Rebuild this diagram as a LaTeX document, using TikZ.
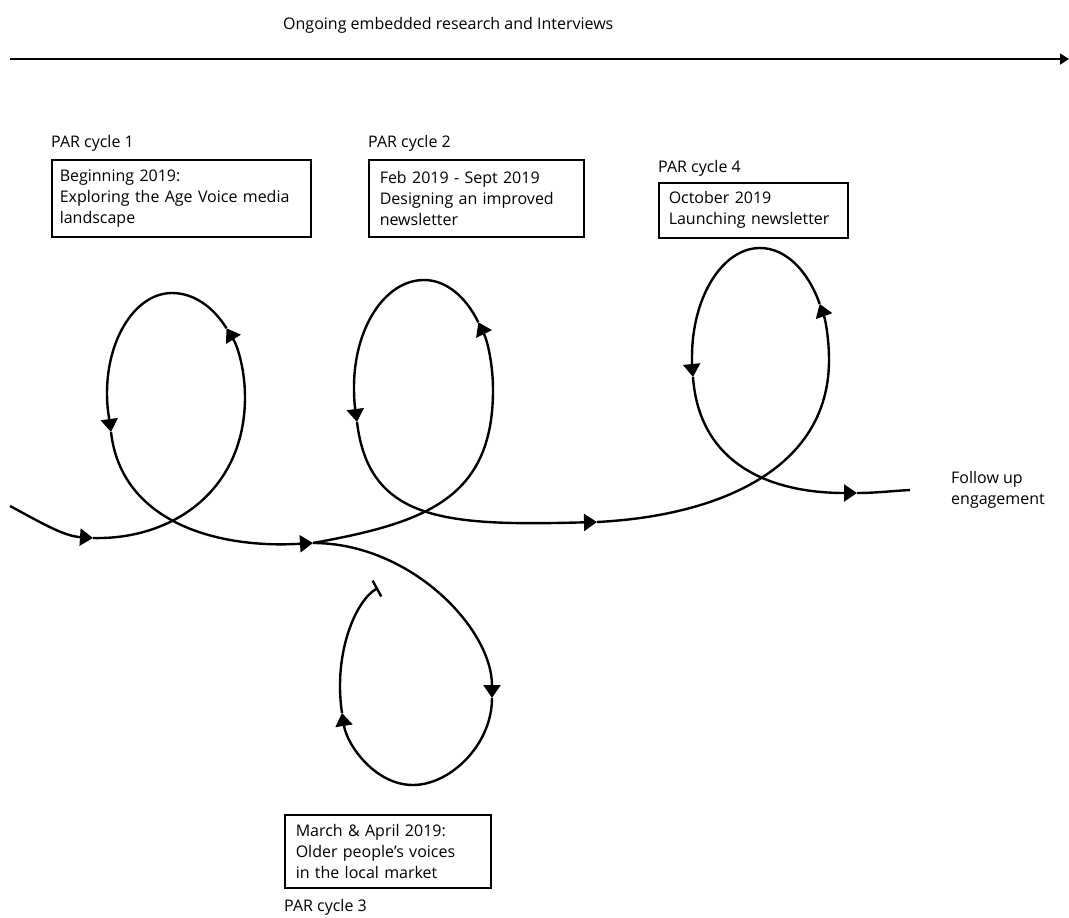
\documentclass[tikz,border=0pt]{standalone}
\usepackage{fontspec}
\setmainfont{Open Sans}
\usetikzlibrary{arrows.meta}
\begin{document}
\begin{tikzpicture}[x=1pt,y=-1pt,
  every node/.style={font=\fontsize{16pt}{21pt}\selectfont, inner sep=0pt},
  cyclelabel/.style={anchor=base west},
  stagebox/.style={draw, line width=1.5pt, anchor=north west, align=left},
  flow/.style={line width=2.4pt, line join=round},
  arrowed/.style={-{Triangle[length=13pt,width=17pt]}},
  barred/.style={-{Bar[width=18pt]}}]
\useasboundingbox (0,0) rectangle (1069,918);
\fill[white] (0,0) rectangle (1069,918);

% timeline across the top
\coordinate (tl) at (10,59);
\coordinate (tr) at (1069,59);
\draw[line width=1.8pt, -{Triangle[length=9pt,width=11pt]}] (tl) -- (tr);
\node[cyclelabel] (ongoing) at (283,29) {Ongoing embedded research and Interviews};

% stage boxes with their cycle labels
\node[cyclelabel] (par1) at (51,147) {PAR cycle 1};
\node[stagebox, minimum width=259pt, minimum height=77pt, text width=243pt, inner xsep=8pt] (box1) at (51,159)
  {Beginning 2019:\\Exploring the Age Voice media\\landscape};
\node[cyclelabel] (par2) at (368,147) {PAR cycle 2};
\node[stagebox, minimum width=215pt, minimum height=77pt, text width=193pt, inner xsep=11pt] (box2) at (368,159)
  {Feb 2019 - Sept 2019\\Designing an improved\\newsletter};
\node[cyclelabel] (par4) at (658,172) {PAR cycle 4};
\node[stagebox, minimum width=189pt, minimum height=55pt, text width=169pt, inner xsep=10pt] (box4) at (658,182)
  {October 2019\\Launching newsletter};
\node[stagebox, minimum width=206pt, minimum height=73pt, text width=184pt, inner xsep=11pt] (box3) at (284,814)
  {March \& April 2019:\\Older people’s voices\\in the local market};
\node[cyclelabel] (par3) at (284,911) {PAR cycle 3};
\node[anchor=north west, align=left] (follow) at (951,471) {Follow up\\engagement};

% waypoints of the spiral path
\coordinate (s0) at (10,506);
\coordinate (a1) at (93,538);
\coordinate (r1) at (245,397);
\coordinate (a2) at (226.5,328.3);
\coordinate (t1) at (172,293);
\coordinate (l1) at (107,393);
\coordinate (a3) at (111,432);
\coordinate (a4) at (313,543);
\coordinate (r2) at (493,390);
\coordinate (a5) at (478.3,322.3);
\coordinate (t2) at (424,280);
\coordinate (l2) at (354,387);
\coordinate (a6) at (357,422);
\coordinate (a7) at (597,522);
\coordinate (r4) at (829,360);
\coordinate (a8) at (819.7,303.9);
\coordinate (t4) at (760,248);
\coordinate (l4) at (692,357);
\coordinate (a9) at (693,377);
\coordinate (a10) at (857,493);
\coordinate (e) at (910,490);
\coordinate (a11) at (492,698);
\coordinate (b3) at (413,785);
\coordinate (a12) at (342,713);
\coordinate (e3) at (378,588);

% cycle 1
\draw[flow,arrowed] (s0) .. controls +(30,16) and +(-30,-2) .. (a1);
\draw[flow,arrowed] (a1) .. controls +(80,2) and +(0,93) .. (r1)
  .. controls +(0,-26.2) and +(11.5,18.4) .. (a2);
\draw[flow,arrowed] (a2) .. controls +(-13.4,-21.6) and +(21.6,0) .. (t1)
  .. controls +(-36,0) and +(0,-55) .. (l1)
  .. controls +(0,15) and +(-2,-15) .. (a3);
\draw[flow,arrowed] (a3) .. controls +(10,88) and +(-100,6) .. (a4);
% cycle 2
\draw[flow,arrowed] (a4) .. controls +(110,-20) and +(0,110) .. (r2)
  .. controls +(0,-25.6) and +(9.2,18.6) .. (a5);
\draw[flow,arrowed] (a5) .. controls +(-12.6,-25.8) and +(22,0) .. (t2)
  .. controls +(-39,0) and +(0,-59) .. (l2)
  .. controls +(0,15) and +(-2,-15) .. (a6);
\draw[flow,arrowed] (a6) .. controls +(12,100) and +(-150,4) .. (a7);
% cycle 4
\draw[flow,arrowed] (a7) .. controls +(120,-6) and +(0,110) .. (r4)
  .. controls +(0,-20.5) and +(5.9,16.5) .. (a8);
\draw[flow,arrowed] (a8) .. controls +(-11.9,-33.5) and +(25.5,0) .. (t4)
  .. controls +(-37.5,0) and +(0,-60) .. (l4)
  .. controls +(0,10) and +(-1,-10) .. (a9);
\draw[flow,arrowed] (a9) .. controls +(6,85) and +(-90,0) .. (a10);
\draw[flow] (a10) .. controls +(18,0) and +(-18,1) .. (e);
% cycle 3 branch
\draw[flow,arrowed] (a4) .. controls +(97,0) and +(0,-70) .. (a11);
\draw[flow,arrowed] (a11) .. controls +(0,47) and +(37,0) .. (b3)
  .. controls +(-38,0) and +(5,32) .. (a12);
\draw[flow,barred] (a12) .. controls +(-9,-60) and +(-22,12) .. (e3);
\end{tikzpicture}
\end{document}
